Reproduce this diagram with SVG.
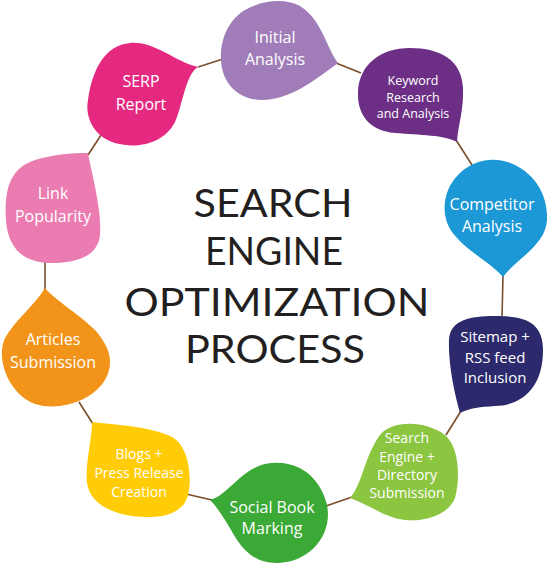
<svg xmlns="http://www.w3.org/2000/svg" width="550" height="567" viewBox="0 0 550 567">
<style>
.lbl{font-family:"Open Sans","Noto Sans","Liberation Sans",sans-serif;fill:#fff;text-anchor:middle}
.t{font-family:Lato,"Liberation Sans",sans-serif;font-size:38px;fill:#231f20;text-anchor:middle}
.c{stroke:#7a4e2a;stroke-width:1.6;fill:none}
</style>
<rect width="550" height="567" fill="#fff"/>
<g id="connectors">
<line class="c" x1="198" y1="67" x2="223" y2="59"/>
<line class="c" x1="336" y1="63" x2="361" y2="73"/>
<line class="c" x1="456" y1="140" x2="472" y2="165"/>
<line class="c" x1="503" y1="275" x2="502" y2="318"/>
<line class="c" x1="461" y1="411" x2="446" y2="435"/>
<line class="c" x1="352" y1="497" x2="326" y2="506"/>
<line class="c" x1="212" y1="500" x2="186" y2="494"/>
<line class="c" x1="93" y1="424" x2="79" y2="402"/>
<line class="c" x1="45" y1="290" x2="45" y2="262"/>
<line class="c" x1="88" y1="155" x2="103" y2="132"/>
</g>
<g id="initial">
<path fill="#a07db8" d="M338,63 C325,45 322,20 300,6 C285,-2 262,0 245,10 C228,20 220,40 221,60 C222,85 240,100 262,100 C290,100 315,80 338,63 Z"/>
<text class="lbl" font-size="16" x="275" y="43">Initial</text>
<text class="lbl" font-size="16" x="275" y="65">Analysis</text>
</g>
<g id="keyword">
<path fill="#6c2f85" d="M457,142 C445,135 420,135 395,133 C370,131 357,115 358,92 C359,65 380,48 410,48 C440,48 462,60 463,88 C464,110 458,125 457,142 Z"/>
<text class="lbl" font-size="12.5" x="413" y="85">Keyword</text>
<text class="lbl" font-size="12.5" x="413" y="102">Research</text>
<text class="lbl" font-size="12.5" x="413" y="118">and Analysis</text>
</g>
<g id="competitor">
<path fill="#1b98d5" d="M503,277 C490,262 465,250 452,232 C440,215 443,190 458,175 C472,160 495,155 515,165 C535,175 548,195 547,220 C546,245 515,260 503,277 Z"/>
<text class="lbl" font-size="16" x="492" y="210">Competitor</text>
<text class="lbl" font-size="16" x="492" y="232">Analysis</text>
</g>
<g id="sitemap">
<path fill="#2c2a6c" d="M460,413 C455,395 448,365 449,340 C450,320 470,316 495,316 C525,316 543,322 543,350 C543,385 525,405 495,406 C480,407 470,408 460,413 Z"/>
<text class="lbl" font-size="15" x="495" y="342">Sitemap +</text>
<text class="lbl" font-size="15" x="495" y="363">RSS feed</text>
<text class="lbl" font-size="15" x="495" y="383">Inclusion</text>
</g>
<g id="search">
<path fill="#8cc540" d="M350,498 C362,485 365,455 380,435 C392,420 425,420 445,435 C460,448 460,480 455,498 C448,515 425,522 405,520 C385,518 370,505 350,498 Z"/>
<text class="lbl" font-size="14" x="407" y="443">Search</text>
<text class="lbl" font-size="14" x="407" y="462">Engine +</text>
<text class="lbl" font-size="14" x="407" y="480">Directory</text>
<text class="lbl" font-size="14" x="407" y="498">Submission</text>
</g>
<g id="social">
<path fill="#3ba935" d="M210,500 C228,495 240,470 265,464 C295,458 320,475 327,505 C333,535 310,562 278,563 C245,564 235,535 225,520 C220,512 215,505 210,500 Z"/>
<text class="lbl" font-size="16" x="272" y="513">Social Book</text>
<text class="lbl" font-size="16" x="272" y="534">Marking</text>
</g>
<g id="blogs">
<path fill="#ffcc05" d="M92,422 C115,425 150,426 172,437 C190,447 192,480 188,495 C184,512 165,518 145,517 C115,516 90,505 87,483 C85,462 92,440 92,422 Z"/>
<text class="lbl" font-size="14" x="139" y="459">Blogs +</text>
<text class="lbl" font-size="14" x="139" y="478">Press Release</text>
<text class="lbl" font-size="14" x="139" y="497">Creation</text>
</g>
<g id="articles">
<path fill="#f29419" d="M45,288 C35,305 15,320 5,338 C-5,360 10,395 35,404 C60,412 95,400 106,378 C115,360 108,345 95,330 C80,315 55,300 45,288 Z"/>
<text class="lbl" font-size="16" x="53" y="345">Articles</text>
<text class="lbl" font-size="16" x="53" y="368">Submission</text>
</g>
<g id="link">
<path fill="#ea7cb1" d="M88,153 C92,175 102,210 100,235 C98,255 80,262 55,263 C25,264 8,250 6,220 C4,190 10,168 35,160 C55,154 72,153 88,153 Z"/>
<text class="lbl" font-size="16" x="53" y="199">Link</text>
<text class="lbl" font-size="16" x="53" y="222">Popularity</text>
</g>
<g id="serp">
<path fill="#e52981" d="M198,67 C185,75 183,105 175,122 C165,142 140,150 115,143 C92,136 85,115 88,100 C92,70 105,45 130,43 C155,41 175,62 198,67 Z"/>
<text class="lbl" font-size="16" x="141" y="87">SERP</text>
<text class="lbl" font-size="16" x="141" y="110">Report</text>
</g>
<g id="title">
<text class="t" x="273" y="217" textLength="159" lengthAdjust="spacingAndGlyphs">SEARCH</text>
<text class="t" x="274" y="265" textLength="138" lengthAdjust="spacingAndGlyphs">ENGINE</text>
<text class="t" x="277" y="316" textLength="305" lengthAdjust="spacingAndGlyphs">OPTIMIZATION</text>
<text class="t" x="275" y="363" textLength="180" lengthAdjust="spacingAndGlyphs">PROCESS</text>
</g>
</svg>
